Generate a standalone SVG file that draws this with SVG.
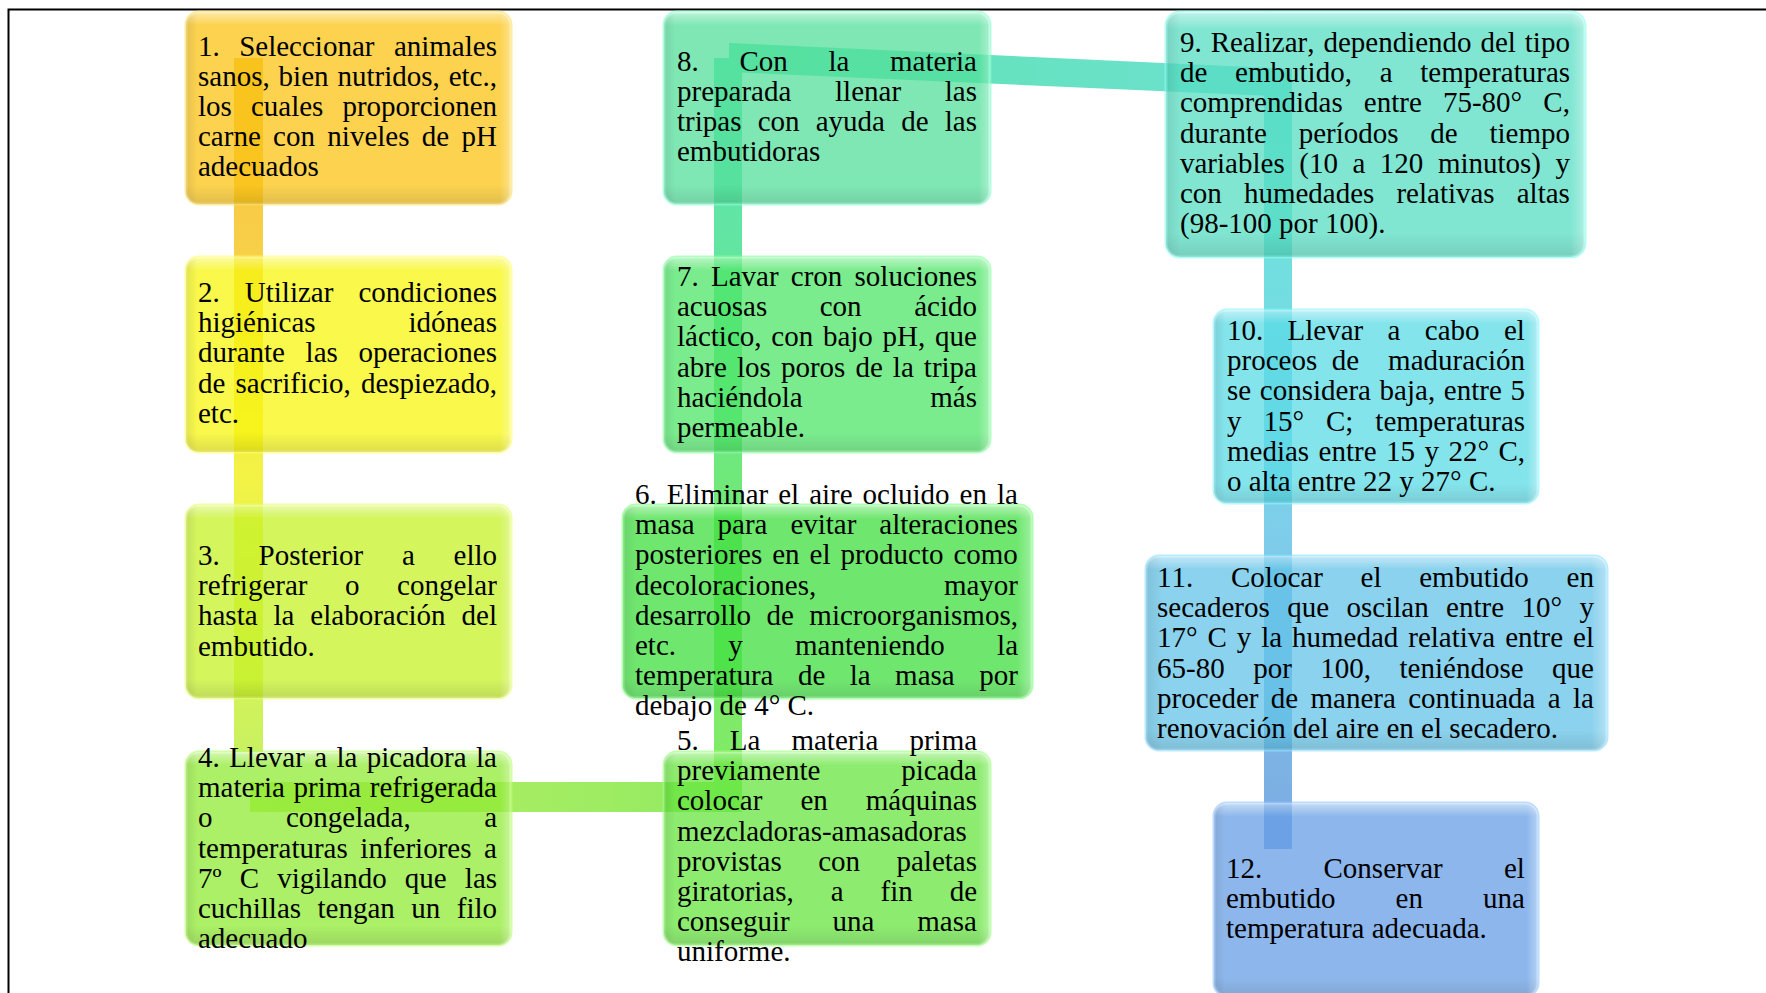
<svg xmlns="http://www.w3.org/2000/svg" width="1766" height="993" viewBox="0 0 1766 993">
<style>
.t{font-family:"Liberation Serif","Times New Roman",serif;font-size:29px;fill:#000;font-kerning:none;font-variant-ligatures:none}
.shape{opacity:.75}
.glow{stroke-width:3;stroke-opacity:.85}
</style>
<defs>
<linearGradient id="gv" x1="0" y1="0" x2="0" y2="1">
<stop offset="0" stop-color="#fff" stop-opacity=".5"/>
<stop offset=".07" stop-color="#fff" stop-opacity="0"/>
<stop offset=".9" stop-color="#000" stop-opacity="0"/>
<stop offset="1" stop-color="#000" stop-opacity=".14"/>
</linearGradient>
<linearGradient id="gh" x1="0" y1="0" x2="1" y2="0">
<stop offset="0" stop-color="#000" stop-opacity=".12"/>
<stop offset=".035" stop-color="#000" stop-opacity="0"/>
<stop offset=".965" stop-color="#fff" stop-opacity="0"/>
<stop offset="1" stop-color="#fff" stop-opacity=".35"/>
</linearGradient>
<linearGradient id="c1" gradientUnits="userSpaceOnUse" x1="0" y1="58" x2="0" y2="752">
<stop offset="0" stop-color="#F6C23C"/>
<stop offset=".25" stop-color="#F8CD48"/>
<stop offset=".6" stop-color="#F3F345"/>
<stop offset=".96" stop-color="#CDF25D"/>
<stop offset="1" stop-color="#C8F060"/>
</linearGradient>
<linearGradient id="c2" gradientUnits="userSpaceOnUse" x1="250" y1="0" x2="742" y2="0">
<stop offset="0" stop-color="#BCEF5E"/>
<stop offset=".69" stop-color="#9FEC62"/>
<stop offset="1" stop-color="#8EEA62"/>
</linearGradient>
<linearGradient id="c3" gradientUnits="userSpaceOnUse" x1="0" y1="58" x2="0" y2="812">
<stop offset="0" stop-color="#5EE4AE"/>
<stop offset=".23" stop-color="#62E5A4"/>
<stop offset=".56" stop-color="#70E97A"/>
<stop offset="1" stop-color="#84EB62"/>
</linearGradient>
<linearGradient id="c4" gradientUnits="userSpaceOnUse" x1="729" y1="0" x2="1292" y2="0">
<stop offset="0" stop-color="#5EE4AE"/>
<stop offset="1" stop-color="#6EE0D2"/>
</linearGradient>
<linearGradient id="c5" gradientUnits="userSpaceOnUse" x1="0" y1="83" x2="0" y2="849">
<stop offset="0" stop-color="#6BE0D4"/>
<stop offset=".26" stop-color="#72DEE0"/>
<stop offset=".58" stop-color="#7ECEEA"/>
<stop offset=".9" stop-color="#7DB2E4"/>
<stop offset="1" stop-color="#78A8E2"/>
</linearGradient>
</defs>
<rect x="0" y="0" width="1766" height="993" fill="#fff"/>
<rect x="8.5" y="9.5" width="1800" height="1000" fill="none" stroke="#000" stroke-width="2"/>

<g id="connectors">
<rect x="234" y="58" width="29" height="694" fill="url(#c1)"/>
<rect x="250" y="782" width="492" height="30" fill="url(#c2)"/>
<rect x="714" y="58" width="28" height="754" fill="url(#c3)"/>
<polygon points="729,43 1292,69 1292,97 729,72" fill="url(#c4)"/>
<rect x="1264" y="83" width="28" height="766" fill="url(#c5)"/>
</g>

<g id="n1">
<g class="shape"><rect class="glow" x="186" y="12" width="325" height="192" rx="13" fill="#FBC414" stroke="#FFE066"/><rect x="186" y="12" width="325" height="192" rx="13" fill="url(#gv)"/><rect x="186" y="12" width="325" height="192" rx="13" fill="url(#gh)"/></g>
<text class="t" x="198" y="55.5" word-spacing="12.19">1. Seleccionar animales</text>
<text class="t" x="198" y="85.7" word-spacing="1.67">sanos, bien nutridos, etc.,</text>
<text class="t" x="198" y="115.9" word-spacing="11.8">los cuales proporcionen</text>
<text class="t" x="198" y="146.1" word-spacing="5.1">carne con niveles de pH</text>
<text class="t" x="198" y="176.3">adecuados</text>
</g>

<g id="n2">
<g class="shape"><rect class="glow" x="186" y="257" width="325" height="195" rx="13" fill="#F7F610" stroke="#FFFF66"/><rect x="186" y="257" width="325" height="195" rx="13" fill="url(#gv)"/><rect x="186" y="257" width="325" height="195" rx="13" fill="url(#gh)"/></g>
<text class="t" x="198" y="302" word-spacing="17.8">2. Utilizar condiciones</text>
<text class="t" x="198" y="332.2" word-spacing="85.6">higiénicas idóneas</text>
<text class="t" x="198" y="362.4" word-spacing="13.4">durante las operaciones</text>
<text class="t" x="198" y="392.6" word-spacing="2.95">de sacrificio, despiezado,</text>
<text class="t" x="198" y="422.8">etc.</text>
</g>

<g id="n3">
<g class="shape"><rect class="glow" x="186" y="505" width="325" height="193" rx="13" fill="#C7F228" stroke="#E6FF70"/><rect x="186" y="505" width="325" height="193" rx="13" fill="url(#gv)"/><rect x="186" y="505" width="325" height="193" rx="13" fill="url(#gh)"/></g>
<text class="t" x="198" y="565" word-spacing="31.5">3. Posterior a ello</text>
<text class="t" x="198" y="595.2" word-spacing="30.3">refrigerar o congelar</text>
<text class="t" x="198" y="625.4" word-spacing="8.67">hasta la elaboración del</text>
<text class="t" x="198" y="655.6">embutido.</text>
</g>

<g id="n4">
<g class="shape"><rect class="glow" x="186" y="752" width="325" height="193" rx="13" fill="#8FEB33" stroke="#B8FF70"/><rect x="186" y="752" width="325" height="193" rx="13" fill="url(#gv)"/><rect x="186" y="752" width="325" height="193" rx="13" fill="url(#gh)"/></g>
<text class="t" x="198" y="767" word-spacing="2.14">4. Llevar a la picadora la</text>
<text class="t" x="198" y="797.2" word-spacing="1.35">materia prima refrigerada</text>
<text class="t" x="198" y="827.4" word-spacing="66.2">o congelada, a</text>
<text class="t" x="198" y="857.6" word-spacing="5.35">temperaturas inferiores a</text>
<text class="t" x="198" y="887.8" word-spacing="10.9">7º C vigilando que las</text>
<text class="t" x="198" y="918" word-spacing="9.2">cuchillas tengan un filo</text>
<text class="t" x="198" y="948.2">adecuado</text>
</g>

<g id="n5">
<g class="shape"><rect class="glow" x="664" y="752" width="326" height="193" rx="13" fill="#67E640" stroke="#9CFF80"/><rect x="664" y="752" width="326" height="193" rx="13" fill="url(#gv)"/><rect x="664" y="752" width="326" height="193" rx="13" fill="url(#gh)"/></g>
<text class="t" x="677" y="750" word-spacing="23.8">5. La materia prima</text>
<text class="t" x="677" y="780.2" word-spacing="73.7">previamente picada</text>
<text class="t" x="677" y="810.4" word-spacing="30.8">colocar en máquinas</text>
<text class="t" x="677" y="840.6">mezcladoras-amasadoras</text>
<text class="t" x="677" y="870.8" word-spacing="29.2">provistas con paletas</text>
<text class="t" x="677" y="901" word-spacing="29.7">giratorias, a fin de</text>
<text class="t" x="677" y="931.2" word-spacing="35.6">conseguir una masa</text>
<text class="t" x="677" y="961.4">uniforme.</text>
</g>

<g id="n6">
<g class="shape"><rect class="glow" x="623" y="505" width="409" height="193" rx="13" fill="#40E040" stroke="#80FF80"/><rect x="623" y="505" width="409" height="193" rx="13" fill="url(#gv)"/><rect x="623" y="505" width="409" height="193" rx="13" fill="url(#gh)"/></g>
<text class="t" x="635" y="504" word-spacing="2.75">6. Eliminar el aire ocluido en la</text>
<text class="t" x="635" y="534.2" word-spacing="15.7">masa para evitar alteraciones</text>
<text class="t" x="635" y="564.4" word-spacing="2.7">posteriores en el producto como</text>
<text class="t" x="635" y="594.6" word-spacing="120.5">decoloraciones, mayor</text>
<text class="t" x="635" y="624.8" word-spacing="8.25">desarrollo de microorganismos,</text>
<text class="t" x="635" y="655" word-spacing="45">etc. y manteniendo la</text>
<text class="t" x="635" y="685.2" word-spacing="17.2">temperatura de la masa por</text>
<text class="t" x="635" y="715.4">debajo de 4° C.</text>
</g>

<g id="n7">
<g class="shape"><rect class="glow" x="664" y="257" width="326" height="195" rx="13" fill="#4EE668" stroke="#88FFA0"/><rect x="664" y="257" width="326" height="195" rx="13" fill="url(#gv)"/><rect x="664" y="257" width="326" height="195" rx="13" fill="url(#gh)"/></g>
<text class="t" x="677" y="286" word-spacing="4.97">7. Lavar cron soluciones</text>
<text class="t" x="677" y="316.2" word-spacing="45.3">acuosas con ácido</text>
<text class="t" x="677" y="346.4" word-spacing="2.5">láctico, con bajo pH, que</text>
<text class="t" x="677" y="376.6" word-spacing="2.82">abre los poros de la tripa</text>
<text class="t" x="677" y="406.8" word-spacing="120.4">haciéndola más</text>
<text class="t" x="677" y="437">permeable.</text>
</g>

<g id="n8">
<g class="shape"><rect class="glow" x="664" y="12" width="326" height="192" rx="13" fill="#53E09B" stroke="#88FFD0"/><rect x="664" y="12" width="326" height="192" rx="13" fill="url(#gv)"/><rect x="664" y="12" width="326" height="192" rx="13" fill="url(#gh)"/></g>
<text class="t" x="677" y="70.5" word-spacing="33.4">8. Con la materia</text>
<text class="t" x="677" y="100.7" word-spacing="36.5">preparada llenar las</text>
<text class="t" x="677" y="130.9" word-spacing="8.95">tripas con ayuda de las</text>
<text class="t" x="677" y="161.1">embutidoras</text>
</g>

<g id="n9">
<g class="shape"><rect class="glow" x="1166" y="12" width="419" height="245" rx="14" fill="#56DEC3" stroke="#88FFEE"/><rect x="1166" y="12" width="419" height="245" rx="14" fill="url(#gv)"/><rect x="1166" y="12" width="419" height="245" rx="14" fill="url(#gh)"/></g>
<text class="t" x="1180" y="52" word-spacing="1.65">9. Realizar, dependiendo del tipo</text>
<text class="t" x="1180" y="82.2" word-spacing="20.5">de embutido, a temperaturas</text>
<text class="t" x="1180" y="112.4" word-spacing="13.9">comprendidas entre 75-80° C,</text>
<text class="t" x="1180" y="142.6" word-spacing="24.5">durante períodos de tiempo</text>
<text class="t" x="1180" y="172.8" word-spacing="7.3">variables (10 a 120 minutos) y</text>
<text class="t" x="1180" y="203" word-spacing="14.8">con humedades relativas altas</text>
<text class="t" x="1180" y="233.2">(98-100 por 100).</text>
</g>

<g id="n10">
<g class="shape"><rect class="glow" x="1214" y="310" width="324" height="193" rx="13" fill="#5BDBE6" stroke="#8CF4FF"/><rect x="1214" y="310" width="324" height="193" rx="13" fill="url(#gv)"/><rect x="1214" y="310" width="324" height="193" rx="13" fill="url(#gh)"/></g>
<text class="t" x="1227" y="340" word-spacing="17.1">10. Llevar a cabo el</text>
<text class="t" x="1227" y="370.2" word-spacing="7.27" xml:space="preserve" style="white-space:pre">proceos de  maduración</text>
<text class="t" x="1227" y="400.4" word-spacing="1.42">se considera baja, entre 5</text>
<text class="t" x="1227" y="430.6" word-spacing="14.7">y 15° C; temperaturas</text>
<text class="t" x="1227" y="460.8" word-spacing="2.2">medias entre 15 y 22° C,</text>
<text class="t" x="1227" y="491">o alta entre 22 y 27° C.</text>
</g>

<g id="n11">
<g class="shape"><rect class="glow" x="1146" y="556" width="461" height="194" rx="13" fill="#63C3E8" stroke="#90E0FF"/><rect x="1146" y="556" width="461" height="194" rx="13" fill="url(#gv)"/><rect x="1146" y="556" width="461" height="194" rx="13" fill="url(#gh)"/></g>
<text class="t" x="1157" y="587" word-spacing="30.5">11. Colocar el embutido en</text>
<text class="t" x="1157" y="617.2" word-spacing="10.2">secaderos que oscilan entre 10° y</text>
<text class="t" x="1157" y="647.4" word-spacing="2.67">17° C y la humedad relativa entre el</text>
<text class="t" x="1157" y="677.6" word-spacing="21.25">65-80 por 100, teniéndose que</text>
<text class="t" x="1157" y="707.8" word-spacing="5.1">proceder de manera continuada a la</text>
<text class="t" x="1157" y="738">renovación del aire en el secadero.</text>
</g>

<g id="n12">
<g class="shape"><rect class="glow" x="1214" y="803" width="324" height="193" rx="13" fill="#68A0E6" stroke="#98C8FF"/><rect x="1214" y="803" width="324" height="193" rx="13" fill="url(#gv)"/><rect x="1214" y="803" width="324" height="193" rx="13" fill="url(#gh)"/></g>
<text class="t" x="1226" y="878" word-spacing="54">12. Conservar el</text>
<text class="t" x="1226" y="908.2" word-spacing="52.8">embutido en una</text>
<text class="t" x="1226" y="938.4">temperatura adecuada.</text>
</g>
</svg>
